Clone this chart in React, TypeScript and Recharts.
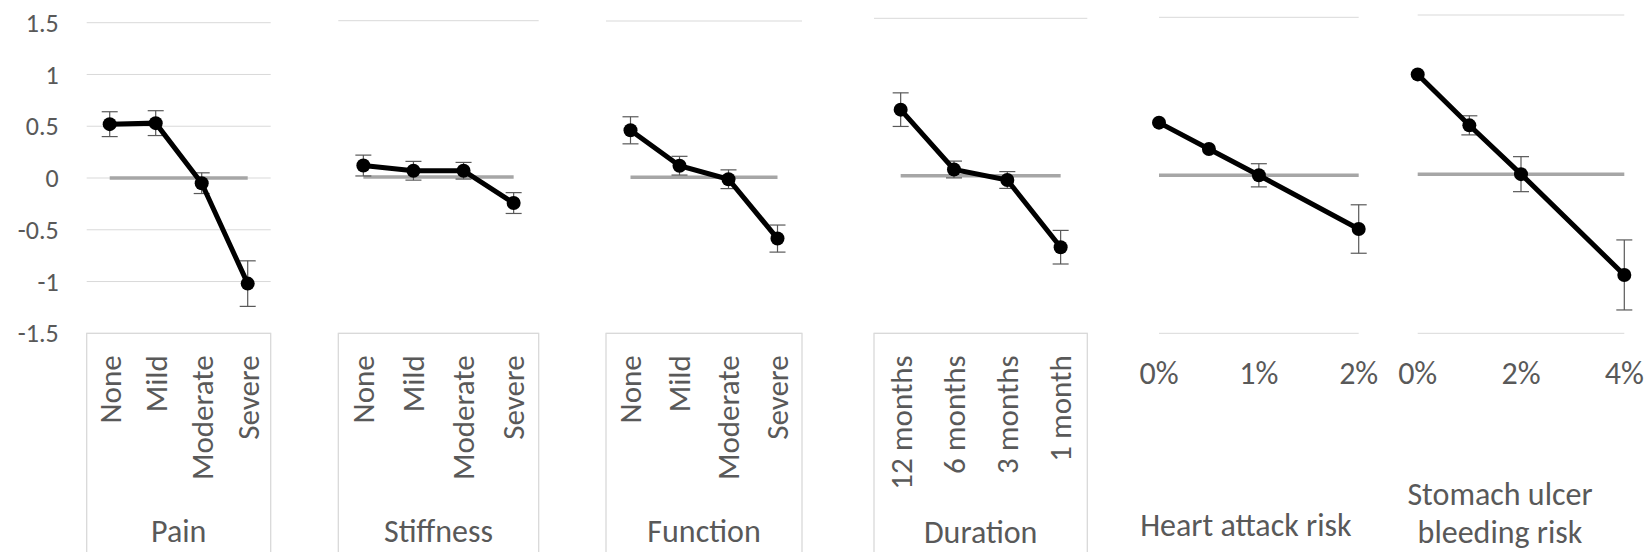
import React from 'react';
import { LineChart, Line, XAxis, YAxis, CartesianGrid, ErrorBar } from 'recharts';

// utility scale shared by every panel
const valueTicks = [-1.5, -1, -0.5, 0, 0.5, 1, 1.5];

const painLevels = ['None', 'Mild', 'Moderate', 'Severe'];
const painUtility = [0.52, 0.53, -0.05, -1.02];
const painError = [0.12, 0.12, 0.1, 0.22];

const stiffnessLevels = ['None', 'Mild', 'Moderate', 'Severe'];
const stiffnessUtility = [0.11, 0.06, 0.06, -0.25];
const stiffnessError = [0.1, 0.09, 0.08, 0.1];

const functionLevels = ['None', 'Mild', 'Moderate', 'Severe'];
const functionUtility = [0.45, 0.11, -0.02, -0.59];
const functionError = [0.13, 0.09, 0.09, 0.13];

const durationLevels = ['12 months', '6 months', '3 months', '1 month'];
const durationUtility = [0.63, 0.06, -0.04, -0.68];
const durationError = [0.16, 0.08, 0.08, 0.16];

const heartRisk = [0, 0.5, 1, 2];
const heartUtility = [0.5, 0.25, 0, -0.51];
const heartError = [0, 0, 0.11, 0.23];
const heartTicks = [0, 1, 2];

const ulcerRisk = [0, 1, 2, 4];
const ulcerUtility = [0.94, 0.46, 0, -0.95];
const ulcerError = [0, 0.09, 0.165, 0.33];
const ulcerTicks = [0, 2, 4];

const W = 1650;
const H = 552;
const AXIS_Y = 333.3;
const TEXT = '#595959';
const GRID = '#d9d9d9';
const FONT = 'Calibri, Carlito, Lato, sans-serif';

type Row = { x: string | number; u: number; e: number; zero: number };

const buildRows = (xs: (string | number)[], u: number[], e: number[]): Row[] =>
  xs.map((x, i) => ({ x, u: u[i], e: e[i], zero: 0 }));

interface PanelDef {
  rows: Row[];
  x0: number;
  x1: number;
  top: number;
  title: string[];
  titleShift?: number;
  titleBase: number;
  numeric?: number[]; // tick values for a numeric x axis
  showY?: boolean;
}

const panels: PanelDef[] = [
  { rows: buildRows(painLevels, painUtility, painError), x0: 86.7, x1: 270.7, top: 22.7, title: ['Pain'], titleBase: 542, showY: true },
  { rows: buildRows(stiffnessLevels, stiffnessUtility, stiffnessError), x0: 338.3, x1: 538.7, top: 20.7, title: ['Stiffness'], titleBase: 542 },
  { rows: buildRows(functionLevels, functionUtility, functionError), x0: 606, x1: 802, top: 21, title: ['Function'], titleBase: 542 },
  { rows: buildRows(durationLevels, durationUtility, durationError), x0: 874, x1: 1087.3, top: 18.3, title: ['Duration'], titleBase: 543 },
  { rows: buildRows(heartRisk, heartUtility, heartError), x0: 1159, x1: 1358.7, top: 17.3, title: ['Heart attack risk'], titleShift: -13, titleBase: 536, numeric: heartTicks },
  { rows: buildRows(ulcerRisk, ulcerUtility, ulcerError), x0: 1417.7, x1: 1624.3, top: 15, title: ['Stomach ulcer', 'bleeding risk'], titleShift: -21, titleBase: 543, numeric: ulcerTicks },
];

const ValueTick = ({ x, y, payload }: any) => (
  <text x={x} y={y} dy="0.35em" textAnchor="end" fontSize={26} fill={TEXT} fontFamily={FONT}>
    {payload.value}
  </text>
);

const LevelTick = ({ x, y, payload }: any) => (
  <text
    x={x}
    y={y + 22}
    dy="0.35em"
    textAnchor="end"
    transform={`rotate(-90, ${x}, ${y + 22})`}
    fontSize={31}
    fill={TEXT}
    fontFamily={FONT}
  >
    {payload.value}
  </text>
);

const PctTick = ({ x, y, payload }: any) => (
  <text x={x} y={y + 51} textAnchor="middle" fontSize={32} fill={TEXT} fontFamily={FONT}>
    {payload.value + '%'}
  </text>
);

const Panel = ({ p }: { p: PanelDef }) => {
  const width = p.x1 - p.x0;
  const pad = width / 8;
  const last = p.rows[p.rows.length - 1].x as number;
  return (
    <div style={{ position: 'absolute', left: 0, top: 0 }}>
      <LineChart
        width={W}
        height={H}
        data={p.rows}
        margin={{ top: p.top, right: W - p.x1, bottom: 0, left: p.showY ? 0 : p.x0 }}
      >
        <CartesianGrid vertical={false} stroke={GRID} strokeWidth={1} />
        {p.numeric ? (
          <XAxis
            dataKey="x"
            type="number"
            domain={[0, last]}
            ticks={p.numeric}
            interval={0}
            height={H - AXIS_Y}
            axisLine={false}
            tickLine={false}
            tickSize={0}
            tickMargin={0}
            tick={<PctTick />}
          />
        ) : (
          <XAxis
            dataKey="x"
            type="category"
            padding={{ left: pad, right: pad }}
            interval={0}
            height={H - AXIS_Y}
            axisLine={false}
            tickLine={false}
            tickSize={0}
            tickMargin={0}
            tick={<LevelTick />}
          />
        )}
        <YAxis
          type="number"
          domain={[-1.5, 1.5]}
          ticks={valueTicks}
          interval={0}
          width={p.showY ? p.x0 : 0}
          axisLine={false}
          tickLine={false}
          tickSize={0}
          tickMargin={28}
          tick={p.showY ? <ValueTick /> : false}
        />
        <Line
          dataKey="zero"
          stroke="#a6a6a6"
          strokeWidth={3.5}
          dot={false}
          activeDot={false}
          isAnimationActive={false}
        />
        <Line
          dataKey="u"
          stroke="#000"
          strokeWidth={5}
          dot={{ r: 7, fill: '#000', stroke: '#000', strokeWidth: 0 }}
          activeDot={false}
          isAnimationActive={false}
        >
          <ErrorBar dataKey="e" direction="y" width={8} stroke="#595959" strokeWidth={1.2} />
        </Line>
      </LineChart>
    </div>
  );
};

// category boxes and axis titles, laid out on the same page grid as the panels
const Frames = () => (
  <svg width={W} height={H} style={{ position: 'absolute', left: 0, top: 0 }}>
    {panels.map((p, i) => {
      const cx = (p.x0 + p.x1) / 2 + (p.titleShift || 0);
      const lineGap = 38;
      return (
        <g key={i}>
          {!p.numeric && (
            <path d={`M${p.x0},${H} V${AXIS_Y} H${p.x1} V${H}`} fill="none" stroke={GRID} strokeWidth={1.3} />
          )}
          <text textAnchor="middle" fontSize={32} fill={TEXT} fontFamily={FONT}>
            {p.title.map((t, j) => (
              <tspan key={j} x={cx} y={p.titleBase - (p.title.length - 1 - j) * lineGap}>
                {t}
              </tspan>
            ))}
          </text>
        </g>
      );
    })}
  </svg>
);

export default function App() {
  return (
    <div style={{ position: 'absolute', left: 0, top: 0, width: W, height: H, background: '#fff', fontFamily: FONT }}>
      {panels.map((p, i) => (
        <Panel key={i} p={p} />
      ))}
      <Frames />
    </div>
  );
}
